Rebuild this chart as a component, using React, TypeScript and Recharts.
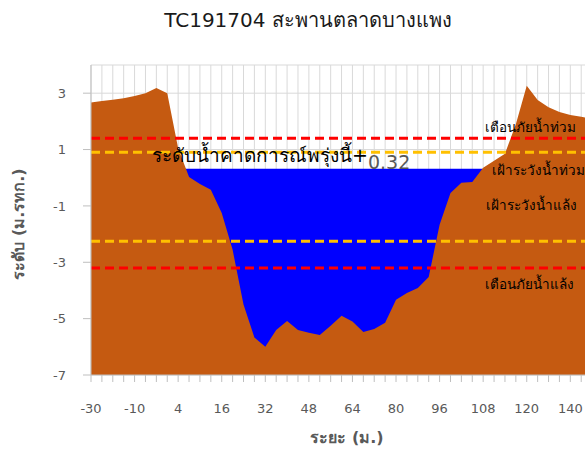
import React from 'react';
import { AreaChart, Area, XAxis, YAxis, CartesianGrid, ReferenceLine } from 'recharts';

const distances = [-30, -25, -20, -15, -10, -5, 0, 2, 4, 7, 10, 13, 16, 20, 24, 28, 32, 36, 40, 44, 48, 52, 56, 60, 64, 68, 72, 76, 80, 84, 88, 92, 96, 99, 102, 105, 108, 111, 114, 117, 120, 125, 130, 135, 140, 145, 150, 155];
const groundLevels = [2.67, 2.72, 2.77, 2.82, 2.9, 3.0, 3.18, 3.0, 1.05, 0.03, -0.22, -0.43, -1.25, -2.56, -4.5, -5.67, -6.0, -5.4, -5.08, -5.4, -5.5, -5.58, -5.25, -4.9, -5.1, -5.47, -5.37, -5.15, -4.33, -4.09, -3.91, -3.52, -1.67, -0.54, -0.18, -0.15, 0.35, 0.6, 0.85, 1.9, 3.26, 2.76, 2.5, 2.33, 2.23, 2.16, 2.1, 2.05];
const forecastLevel = 0.32;
const yTicks = [-7, -5, -3, -1, 1, 3];
const yDomain = [-7, 4];
const thresholdNames = ['เตือนภัยน้ำท่วม', 'เฝ้าระวังน้ำท่วม', 'เฝ้าระวังน้ำแล้ง', 'เตือนภัยน้ำแล้ง'];
const thresholdValues = [1.4, 0.9, -2.25, -3.2];
const thresholdColors = ['#FF0000', '#FFC000', '#FFC000', '#FF0000'];
const title = 'TC191704 สะพานตลาดบางแพง';
const xTitle = 'ระยะ (ม.)';
const yTitle = 'ระดับ (ม.รทก.)';
const forecastText = 'ระดับน้ำคาดการณ์พรุ่งนี้+';

const data = distances.map((d, i) => ({ d, g: groundLevels[i], w: forecastLevel }));

const FONT = '"DejaVu Sans", Tahoma, Verdana, sans-serif';

// label offsets (position only)
const labelOffsets = [
  { dx: 439, dy: -6 },
  { dx: 447, dy: 23 },
  { dx: 440, dy: -31 },
  { dx: 438, dy: 21 },
];

const XTick = (props: any) => {
  const { x, y, payload, index } = props;
  if (index % 4 !== 0) return <g />;
  return (
    <text x={x} y={y} dy="0.71em" textAnchor="middle" fill="#595959" fontSize={13} fontFamily={FONT}>
      {payload.value}
    </text>
  );
};

export default function App() {
  return (
    <div style={{ position: 'fixed', left: 0, top: 0, width: 585, height: 450, overflow: 'hidden', background: '#fff' }}>
      <div style={{ position: 'absolute', left: 0, top: 0, width: 620, height: 450 }}>
        <div
          style={{
            position: 'absolute',
            left: 0,
            top: 8,
            width: 616,
            textAlign: 'center',
            fontFamily: FONT,
            fontSize: 20,
            lineHeight: '24px',
            color: '#1a1a1a',
          }}
        >
          {title}
        </div>
        <AreaChart
          width={620}
          height={450}
          data={data}
          margin={{ top: 65, right: 17, left: 0, bottom: 5 }}
          style={{ fontFamily: FONT }}
        >
          <CartesianGrid stroke="#D9D9D9" strokeWidth={1} />
          <XAxis
            dataKey="d"
            interval={0}
            height={70}
            tickSize={7}
            tickMargin={22}
            tick={<XTick />}
            tickLine={{ stroke: '#BFBFBF' }}
            axisLine={{ stroke: '#BFBFBF' }}
            label={(p: any) => {
              const vb = p.viewBox;
              return (
                <text x={vb.x + vb.width / 2} y={443} textAnchor="middle" fill="#595959" fontSize={16} fontWeight="bold" fontFamily={FONT}>
                  {xTitle}
                </text>
              );
            }}
          />
          <YAxis
            type="number"
            domain={yDomain}
            ticks={yTicks}
            width={91}
            tickSize={8}
            tickMargin={17}
            tick={{ fill: '#595959', fontSize: 13, fontFamily: FONT }}
            tickLine={{ stroke: '#BFBFBF' }}
            axisLine={{ stroke: '#BFBFBF' }}
            allowDataOverflow
            label={(p: any) => {
              const vb = p.viewBox;
              const cx = 18;
              const cy = vb.y + vb.height / 2 + 4;
              return (
                <text x={cx} y={cy} transform={`rotate(-90 ${cx} ${cy})`} textAnchor="middle" dominantBaseline="central" fill="#595959" fontSize={16} fontWeight="bold" fontFamily={FONT}>
                  {yTitle}
                </text>
              );
            }}
          />
          <Area type="linear" dataKey="w" fill="#0000FF" fillOpacity={1} stroke="none" baseValue={-7} isAnimationActive={false} />
          <Area type="linear" dataKey="g" fill="#C55A11" fillOpacity={1} stroke="none" baseValue={-7} isAnimationActive={false} />
          {thresholdValues.map((v, i) => (
            <ReferenceLine
              key={i}
              y={v}
              stroke={thresholdColors[i]}
              strokeWidth={3}
              strokeDasharray="9 5"
              label={(p: any) => {
                const vb = p.viewBox;
                return (
                  <text x={vb.x + labelOffsets[i].dx} y={vb.y + labelOffsets[i].dy} textAnchor="middle" fill="#000" fontSize={13.5} fontFamily={FONT}>
                    {thresholdNames[i]}
                  </text>
                );
              }}
            />
          ))}
          <ReferenceLine
            y={forecastLevel}
            stroke="none"
            label={(p: any) => {
              const vb = p.viewBox;
              return (
                <text x={vb.x + 61} y={vb.y - 7} fill="#000" fontSize={19} fontFamily={FONT}>
                  {forecastText}
                  <tspan fill="#595959" dy={7} fontSize={19}>{forecastLevel.toFixed(2)}</tspan>
                </text>
              );
            }}
          />
        </AreaChart>
      </div>
    </div>
  );
}
